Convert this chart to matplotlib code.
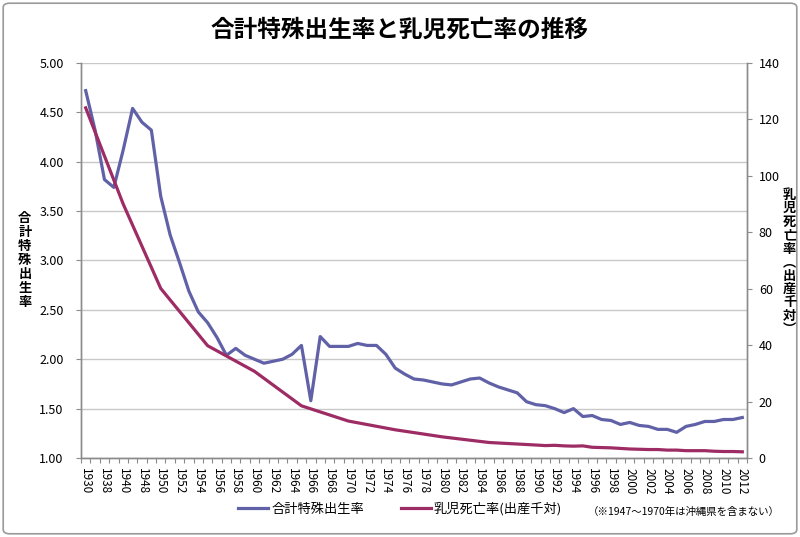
import numpy as np
import matplotlib
matplotlib.use("Agg")
import matplotlib.pyplot as plt
from matplotlib.patches import FancyBboxPatch
from matplotlib.lines import Line2D

plt.rcParams['font.family'] = ['Noto Sans CJK JP', 'DejaVu Sans']

# categories (x axis)
years = [1930, 1937, 1938, 1939, 1940] + list(range(1947, 2013))
tick_years = years[::2]

# total fertility rate, every category
tfr = [4.72, 4.32, 3.82, 3.74, 4.12,
       4.54, 4.40, 4.32, 3.65, 3.26, 2.98, 2.69, 2.48, 2.37, 2.22, 2.04,
       2.11, 2.04, 2.00, 1.96, 1.98, 2.00, 2.05, 2.14, 1.58, 2.23, 2.13,
       2.13, 2.13, 2.16, 2.14, 2.14, 2.05, 1.91, 1.85, 1.80, 1.79, 1.77,
       1.75, 1.74, 1.77, 1.80, 1.81, 1.76, 1.72, 1.69, 1.66, 1.57, 1.54,
       1.53, 1.50, 1.46, 1.50, 1.42, 1.43, 1.39, 1.38, 1.34, 1.36, 1.33,
       1.32, 1.29, 1.29, 1.26, 1.32, 1.34, 1.37, 1.37, 1.39, 1.39, 1.41]

# infant mortality rate (per 1000 births), only the years that have data
imr_years = [1930, 1940, 1950, 1955, 1960, 1965, 1970, 1975, 1980, 1985,
             1990, 1991, 1992, 1993, 1994, 1995, 1996, 1997, 1998, 1999,
             2000, 2001, 2002, 2003, 2004, 2005, 2006, 2007, 2008, 2009,
             2010, 2011, 2012]
imr = [124.1, 90.0, 60.1, 39.8, 30.7, 18.5, 13.1, 10.0, 7.5, 5.5,
       4.6, 4.4, 4.5, 4.3, 4.2, 4.3, 3.8, 3.7, 3.6, 3.4,
       3.2, 3.1, 3.0, 3.0, 2.8, 2.8, 2.6, 2.6, 2.6, 2.4,
       2.3, 2.3, 2.2]

blue = '#6161A8'
red = '#9E2C64'
axis_gray = '#8C8C8C'
grid_gray = '#C8C8C8'

fig = plt.figure(figsize=(8, 5.37), dpi=100)
fig.patches.append(FancyBboxPatch((0.004, 0.006), 0.992, 0.988,
                                  boxstyle='round,pad=0,rounding_size=0.008',
                                  transform=fig.transFigure, fill=False,
                                  edgecolor='#9A9A9A', linewidth=1.2))

ax = fig.add_axes([0.10125, 0.1471, 0.8325, 0.7356])
ax2 = ax.twinx()

x = np.arange(len(years))
imr_x = [years.index(y) for y in imr_years]

ax.plot(x, tfr, color=blue, lw=2.3, solid_joinstyle='round', zorder=3)
ax2.plot(imr_x, imr, color=red, lw=2.3, solid_joinstyle='round', zorder=3)

ax.set_xlim(-0.5, len(years) - 0.5)
ax.set_ylim(1.0, 5.0)
ax2.set_ylim(0, 140)

ax.set_yticks(np.arange(1.0, 5.01, 0.5))
ax.set_yticklabels([f'{v:.2f}' for v in np.arange(1.0, 5.01, 0.5)])
ax2.set_yticks(np.arange(0, 141, 20))

ax.set_xticks(x[::2])
ax.set_xticklabels([str(y) for y in tick_years], rotation=270)
ax.set_xticks(np.arange(-0.5, len(years)), minor=True)
ax.tick_params(axis='x', which='major', length=0, pad=7, labelsize=8.5)
ax.tick_params(axis='x', which='minor', length=3.5, color=axis_gray, width=0.8)
ax.tick_params(axis='y', length=3.5, color=axis_gray, width=0.8, pad=9, labelsize=9)
ax2.tick_params(axis='y', length=3.5, color=axis_gray, width=0.8, pad=5, labelsize=9)

ax.grid(axis='y', color=grid_gray, lw=1.0)
ax.set_axisbelow(True)
for a in (ax, ax2):
    a.spines['top'].set_visible(False)
    for s in ('left', 'right', 'bottom'):
        a.spines[s].set_color(axis_gray)
        a.spines[s].set_linewidth(1.0)

fig.text(0.5, 0.944, '合計特殊出生率と乳児死亡率の推移', ha='center', va='center',
         fontsize=17, fontweight='bold')

fig.text(0.031, 0.515, '\n'.join('合計特殊出生率'), ha='center', va='center',
         fontsize=9.5, fontweight='bold', linespacing=1.0)

# right axis title, stacked vertically, vertical-form brackets
fig.text(0.987, 0.512, '\n'.join('乳児死亡率︵出産千対︶'), ha='center', va='center',
         fontsize=9.5, fontweight='bold', linespacing=0.95)

handles = [Line2D([], [], color=blue, lw=2.3), Line2D([], [], color=red, lw=2.3)]
fig.legend(handles, ['合計特殊出生率', '乳児死亡率(出産千対)'], loc='center',
           bbox_to_anchor=(0.5, 0.052), ncol=2, frameon=False, fontsize=9.5,
           handlelength=2.3, handletextpad=0.2, columnspacing=2.8)
fig.text(0.735, 0.046, '（※1947～1970年は沖縄県を含まない）', ha='left', va='center',
         fontsize=7.5)

fig.savefig('out.png', dpi=100)
